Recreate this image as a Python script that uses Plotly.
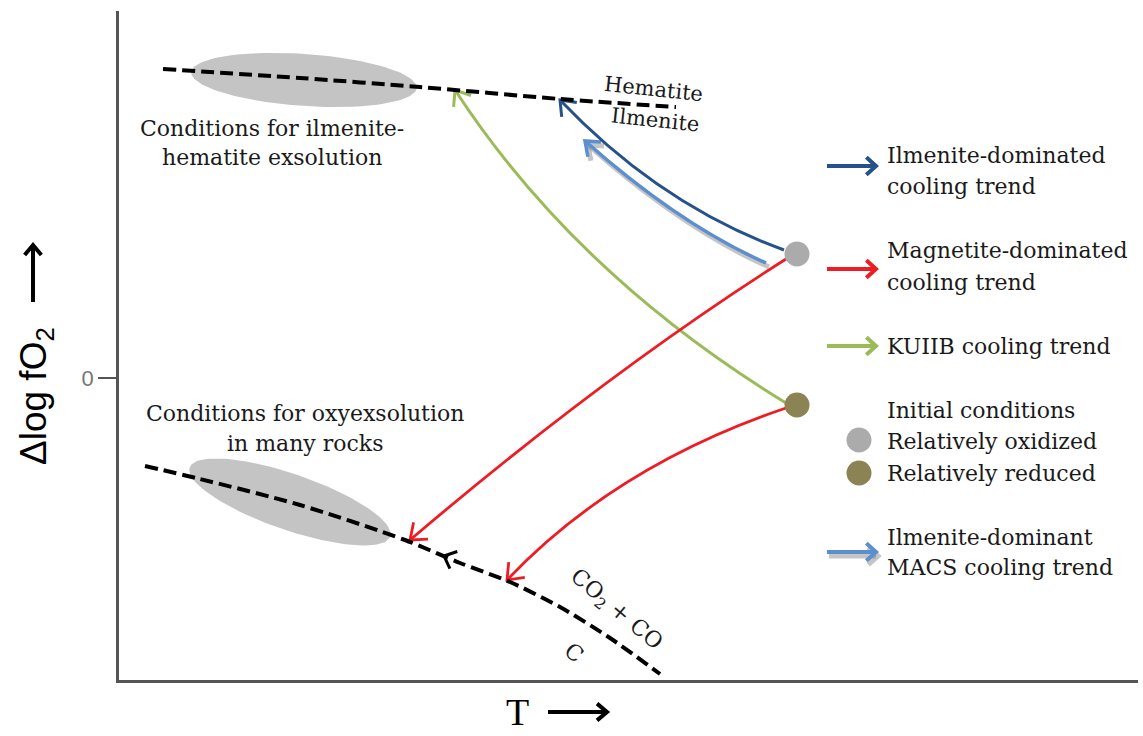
import numpy as np
import plotly.graph_objects as go

# ---- frame (one axis unit = one screen pixel) ----
FIG_W, FIG_H = 1143, 736
M_L, M_R, M_T, M_B = 119, 5, 11, 56
T_RANGE = [0, FIG_W - M_L - M_R]          # 0 .. 1019
FO2_RANGE = [-302, FIG_H - M_T - M_B - 302]  # -302 .. 367

# ---- phase boundaries (T, Δlog fO2) ----
hem_ilm_T = [44, 181, 301, 441, 557]
hem_ilm_fO2 = [309, 300, 291, 279, 271]

cco_T = [26, 81, 181, 286, 341, 391, 441, 491, 541]
cco_fO2 = [-88, -101, -127, -162, -185, -204, -229, -260, -296]

# ---- exsolution fields: centre T, centre fO2, half-length, half-width, tilt (deg) ----
field_ilm_hem = [185, 298, 113, 26, -4]
field_oxy = [171, -124, 106, 28, -19]

# ---- initial conditions ----
init_T = [678, 678]
init_fO2 = [124, -27]
init_colors = ["#ababab", "#8b8353"]

# ---- cooling trends: start, bend, end ----
ilm_T = [665, 541, 441]
ilm_fO2 = [128, 173, 278]
macs_T = [647, 561, 466]
macs_fO2 = [115, 153, 237]
mag1_T = [667, 486, 291]
mag1_fO2 = [119, 4, -162]
mag2_T = [667, 496, 388]
mag2_fO2 = [-30, -88, -202]
kuiib_T = [667, 456, 336]
kuiib_fO2 = [-25, 104, 288]

C_ILM = "#26528c"
C_MACS = "#5b8fcf"
C_MAG = "#ee1c24"
C_KUIIB = "#9bbb59"
SHADOW = "rgba(110,110,110,0.40)"

SERIF = "DejaVu Serif"
SANS = "Liberation Sans"

fig = go.Figure()


def ellipse_xy(cx, cy, a, b, tilt):
    t = np.linspace(0, 2 * np.pi, 120)
    th = np.radians(tilt)
    x = cx + a * np.cos(t) * np.cos(th) - b * np.sin(t) * np.sin(th)
    y = cy + a * np.cos(t) * np.sin(th) + b * np.sin(t) * np.cos(th)
    return x, y


for fld in (field_ilm_hem, field_oxy):
    ex, ey = ellipse_xy(*fld)
    fig.add_trace(go.Scatter(x=ex, y=ey, fill="toself", fillcolor="#c4c4c4",
                             line=dict(width=0), mode="lines", hoverinfo="skip"))

for bx, by in ((hem_ilm_T, hem_ilm_fO2), (cco_T, cco_fO2)):
    fig.add_trace(go.Scatter(x=bx, y=by, mode="lines",
                             line=dict(color="black", width=4, dash="13px,6px",
                                       shape="spline", smoothing=0.8),
                             hoverinfo="skip"))

shapes = []


def chevron_path(tip, back, length=15, half_angle=38):
    d = np.array(tip, float) - np.array(back, float)
    d /= np.hypot(*d)
    pts = []
    for s in (1, -1):
        a = np.radians(s * half_angle)
        r = np.array([-d[0] * np.cos(a) + d[1] * np.sin(a),
                      -d[0] * np.sin(a) - d[1] * np.cos(a)])
        pts.append(np.array(tip) + length * r)
    return (f"M {pts[0][0]:.1f},{pts[0][1]:.1f} L {tip[0]:.1f},{tip[1]:.1f} "
            f"L {pts[1][0]:.1f},{pts[1][1]:.1f}")


def trend(xs, ys, color, width, head=16, dx=0, dy=0):
    p = [(x + dx, y + dy) for x, y in zip(xs, ys)]
    shapes.append(dict(type="path", xref="x", yref="y", layer="below",
                       path=f"M {p[0][0]},{p[0][1]} Q {p[1][0]},{p[1][1]} {p[2][0]},{p[2][1]}",
                       line=dict(color=color, width=width)))
    shapes.append(dict(type="path", xref="x", yref="y", layer="below",
                       path=chevron_path(p[2], p[1], head),
                       line=dict(color=color, width=width)))


trend(macs_T, macs_fO2, SHADOW, 5, dx=3, dy=-4)
trend(macs_T, macs_fO2, C_MACS, 3.5)
trend(ilm_T, ilm_fO2, C_ILM, 3, head=17)
trend(kuiib_T, kuiib_fO2, C_KUIIB, 3, head=17)
trend(mag1_T, mag1_fO2, C_MAG, 2.8, head=18)
trend(mag2_T, mag2_fO2, C_MAG, 2.8, head=18)

# direction marker on the CO2+CO / C buffer
shapes.append(dict(type="path", xref="x", yref="y",
                   path=chevron_path((cco_T[4] - 16, cco_fO2[4] + 7), (cco_T[4] + 5, cco_fO2[4] - 2), 14, 42),
                   line=dict(color="black", width=3)))

# ---- legend ----
leg_x0, leg_x1 = 708, 757
leg_rows = [(212, C_ILM), (109, C_MAG), (32, C_KUIIB), (-174, C_MACS)]
for yy, col in leg_rows:
    if col == C_MACS:
        for c, w, off in ((SHADOW, 5, (2, -4)), (col, 4, (0, 0))):
            shapes.append(dict(type="line", xref="x", yref="y",
                               x0=leg_x0 + off[0], x1=leg_x1 + off[0] - 2,
                               y0=yy + off[1], y1=yy + off[1], line=dict(color=c, width=w)))
            shapes.append(dict(type="path", xref="x", yref="y",
                               path=chevron_path((leg_x1 + off[0], yy + off[1]), (leg_x0, yy + off[1]), 13, 42),
                               line=dict(color=c, width=w)))
    else:
        shapes.append(dict(type="line", xref="x", yref="y", x0=leg_x0, x1=leg_x1 - 2,
                           y0=yy, y1=yy, line=dict(color=col, width=4)))
        shapes.append(dict(type="path", xref="x", yref="y",
                           path=chevron_path((leg_x1, yy), (leg_x0, yy), 13, 42),
                           line=dict(color=col, width=4)))

fig.add_trace(go.Scatter(x=init_T, y=init_fO2, mode="markers",
                         marker=dict(size=25, color=init_colors, line=dict(width=0)),
                         hoverinfo="skip"))
fig.add_trace(go.Scatter(x=[740, 740], y=[-62, -95], mode="markers",
                         marker=dict(size=25, color=init_colors, line=dict(width=0)),
                         hoverinfo="skip"))

annotations = []


def label(x, y, text, size=22, angle=0, anchor="center", font=SERIF, color="#1a1a1a"):
    annotations.append(dict(x=x, y=y, xref="x", yref="y", text=text, showarrow=False,
                            textangle=angle, xanchor=anchor, yanchor="middle",
                            font=dict(family=font, size=size, color=color)))


label(534, 289, "Hematite", 21, 6)
label(536, 258, "Ilmenite", 21, 6)
label(153, 250, "Conditions for ilmenite-")
label(153, 221, "hematite exsolution")
label(186, -35, "Conditions for oxyexsolution")
label(186, -65, "in many rocks")
label(497, -232, "CO<sub>2</sub> + CO", 22, 40)
label(455, -274, "C", 22, 40)

leg_text = [(223, "Ilmenite-dominated"), (192, "cooling trend"),
            (128, "Magnetite-dominated"), (96, "cooling trend"),
            (32, "KUIIB cooling trend"),
            (-32, "Initial conditions"), (-63, "Relatively oxidized"), (-95, "Relatively reduced"),
            (-159, "Ilmenite-dominant"), (-189, "MACS cooling trend")]
for yy, txt in leg_text:
    label(766, yy, txt, 22, anchor="left")


def px_paper(px, py):
    return (px - M_L) / T_RANGE[1], (FIG_H - M_B - py) / (FO2_RANGE[1] - FO2_RANGE[0])


def paper_arrow(p0, p1, width=4, length=13, half_angle=40):
    a = px_paper(*p0)
    b = px_paper(*p1)
    shapes.append(dict(type="line", xref="paper", yref="paper", x0=a[0], y0=a[1],
                       x1=b[0], y1=b[1], line=dict(color="black", width=width)))
    d = np.array(p1, float) - np.array(p0, float)
    d /= np.hypot(*d)
    pts = []
    for s in (1, -1):
        ang = np.radians(s * half_angle)
        r = np.array([-d[0] * np.cos(ang) + d[1] * np.sin(ang),
                      -d[0] * np.sin(ang) - d[1] * np.cos(ang)])
        q = px_paper(*(np.array(p1) + length * r))
        pts.append(q)
    shapes.append(dict(type="path", xref="paper", yref="paper",
                       path=f"M {pts[0][0]},{pts[0][1]} L {b[0]},{b[1]} L {pts[1][0]},{pts[1][1]}",
                       line=dict(color="black", width=width)))


paper_arrow((548, 712), (607, 712))
paper_arrow((33, 302), (33, 245))

tx, ty = px_paper(517, 712)
annotations.append(dict(x=tx, y=ty, xref="paper", yref="paper", text="T", showarrow=False,
                        xanchor="center", yanchor="middle",
                        font=dict(family="Liberation Serif", size=38, color="black")))
yx, yy_ = px_paper(36, 396)
annotations.append(dict(x=yx, y=yy_, xref="paper", yref="paper", text="Δlog fO<sub>2</sub>",
                        showarrow=False, textangle=-90, xanchor="center", yanchor="middle",
                        font=dict(family=SANS, size=37, color="black")))

fig.update_layout(
    width=FIG_W, height=FIG_H,
    margin=dict(l=M_L, r=M_R, t=M_T, b=M_B),
    paper_bgcolor="white", plot_bgcolor="white",
    showlegend=False,
    shapes=shapes, annotations=annotations,
    xaxis=dict(range=T_RANGE, showgrid=False, zeroline=False, showticklabels=False,
               ticks="", showline=True, linecolor="#555555", linewidth=2.5, fixedrange=True),
    yaxis=dict(range=FO2_RANGE, showgrid=False, zeroline=False,
               tickvals=[0], ticktext=["0"], ticks="outside", ticklen=18, tickwidth=2,
               tickcolor="#555555", tickfont=dict(family=SANS, size=22, color="#777777"),
               showline=True, linecolor="#555555", linewidth=2.5, fixedrange=True),
)

fig.write_html("out.html")
